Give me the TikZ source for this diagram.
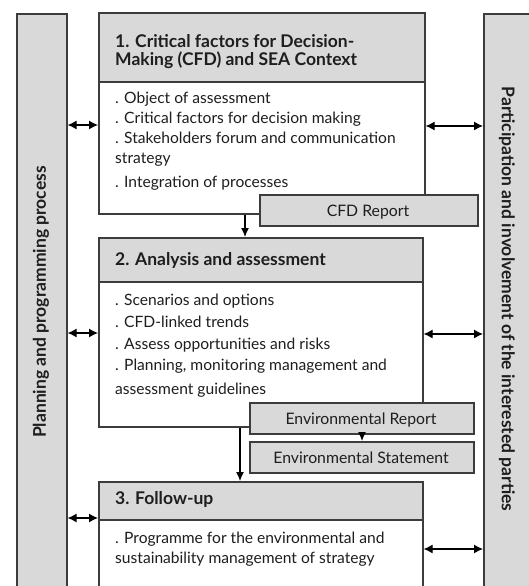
\documentclass[tikz,border=0pt]{standalone}
\usepackage{fontspec}
\setmainfont{Lato}
\usetikzlibrary{arrows.meta,calc}
\definecolor{boxgray}{HTML}{D9D9D9}
\definecolor{edge}{HTML}{3C3C3C}
\definecolor{txt}{HTML}{1E1E1E}
\tikzset{
  gbox/.style={draw=edge, line width=1.6pt, fill=boxgray, rectangle, inner sep=0pt, anchor=north west},
  wbox/.style={draw=edge, line width=1.6pt, fill=white, rectangle, inner sep=0pt, anchor=north west},
  htext/.style={anchor=base west, inner sep=0pt, font=\fontsize{17.5}{18}\selectfont\bfseries, text=txt},
  btext/.style={anchor=base west, inner sep=0pt, font=\fontsize{15.6}{18}\selectfont, text=txt},
  ctext/.style={anchor=base, inner sep=0pt, font=\fontsize{15.8}{18}\selectfont, text=txt},
  rtext/.style={inner sep=0pt, text=txt, font=\fontsize{17.5}{18}\selectfont\bfseries},
  arr/.style={-{Latex[length=9pt,width=8pt]}, line width=1.2pt, black},
  darr/.style={{Latex[length=9pt,width=9pt]}-{Latex[length=9pt,width=9pt]}, line width=1.2pt, black},
}
\begin{document}
\begin{tikzpicture}[x=1pt,y=1pt]
\useasboundingbox (0,0) rectangle (529,-586);
\clip (0,0) rectangle (529,-586);
\fill[white] (0,0) rectangle (529,-586);
% side bars
\node[gbox, minimum width=50pt, minimum height=600pt] (lbar) at (16,-13) {};
\node[gbox, minimum width=60pt, minimum height=600pt] (rbar) at (483,-13) {};
\node[rtext, rotate=90] (ltxt) at (41,-302) {Planning and programming process};
\node[rtext, rotate=-90] (rtxt) at (507,-299) {Participation and involvement of the interested parties};
% box 1
\node[gbox, minimum width=326pt, minimum height=69pt] (h1) at (98,-12) {};
\node[wbox, minimum width=326pt, minimum height=132pt] (b1) at (98,-81) {};
\node[htext] (h1a) at (115,-48) {1. Critical factors for Decision-};
\node[htext] (h1b) at (115,-66) {Making (CFD) and SEA Context};
\node[btext] (b1a) at (115,-103) {. Object of assessment};
\node[btext] (b1b) at (115,-123) {. Critical factors for decision making};
\node[btext] (b1c) at (115,-143) {. Stakeholders forum and communication};
\node[btext] (b1d) at (115,-163) {strategy};
\node[btext] (b1e) at (115,-187) {. Integration of processes};
\node[gbox, minimum width=218pt, minimum height=31pt] (cfd) at (259,-194) {};
\node[ctext] (cfdt) at (368,-216) {CFD Report};
% box 2
\node[gbox, minimum width=324pt, minimum height=44pt] (h2) at (98,-237) {};
\node[wbox, minimum width=324pt, minimum height=145pt] (b2) at (98,-281) {};
\node[htext] (h2t) at (115,-265) {2. Analysis and assessment};
\node[btext] (b2a) at (115,-305) {. Scenarios and options};
\node[btext] (b2b) at (115,-327) {. CFD-linked trends};
\node[btext] (b2c) at (115,-349) {. Assess opportunities and risks};
\node[btext] (b2d) at (115,-370) {. Planning, monitoring management and};
\node[btext] (b2e) at (115,-394) {assessment guidelines};
\node[gbox, minimum width=224pt, minimum height=31pt] (er) at (249,-402) {};
\node[ctext] (ert) at (361,-424) {Environmental Report};
\node[gbox, minimum width=224pt, minimum height=31pt] (es) at (249,-441) {};
\node[ctext] (est) at (361,-463) {Environmental Statement};
% box 3
\node[gbox, minimum width=324pt, minimum height=38pt] (h3) at (98,-481) {};
\node[wbox, minimum width=324pt, minimum height=120pt] (b3) at (98,-519) {};
\node[htext] (h3t) at (115,-504) {3. Follow-up};
\node[btext] (b3a) at (115,-543) {. Programme for the environmental and};
\node[btext] (b3b) at (115,-563) {sustainability management of strategy};
% vertical flow arrows
\draw[arr] (b1.south -| 245,0) -- (h2.north -| 245,0);
\draw[arr] (b2.south -| 240,0) -- (h3.north -| 240,0);
\draw[arr] (er.south -| 362,0) -- (es.north -| 362,0);
% side arrows
\coordinate (y1) at (0,-125);
\coordinate (y2) at (0,-333);
\coordinate (y3) at (0,-518);
\draw[darr] (lbar.east |- y1) -- (b1.west |- y1);
\draw[darr] (lbar.east |- y2) -- (b2.west |- y2);
\draw[darr] (lbar.east |- y3) -- (h3.west |- y3);
\coordinate (z1) at (0,-126);
\coordinate (z2) at (0,-334);
\coordinate (z3) at (0,-549);
\draw[darr] (b1.east |- z1) -- (rbar.west |- z1);
\draw[darr] (b2.east |- z2) -- (rbar.west |- z2);
\draw[darr] (b3.east |- z3) -- (rbar.west |- z3);
\end{tikzpicture}
\end{document}
